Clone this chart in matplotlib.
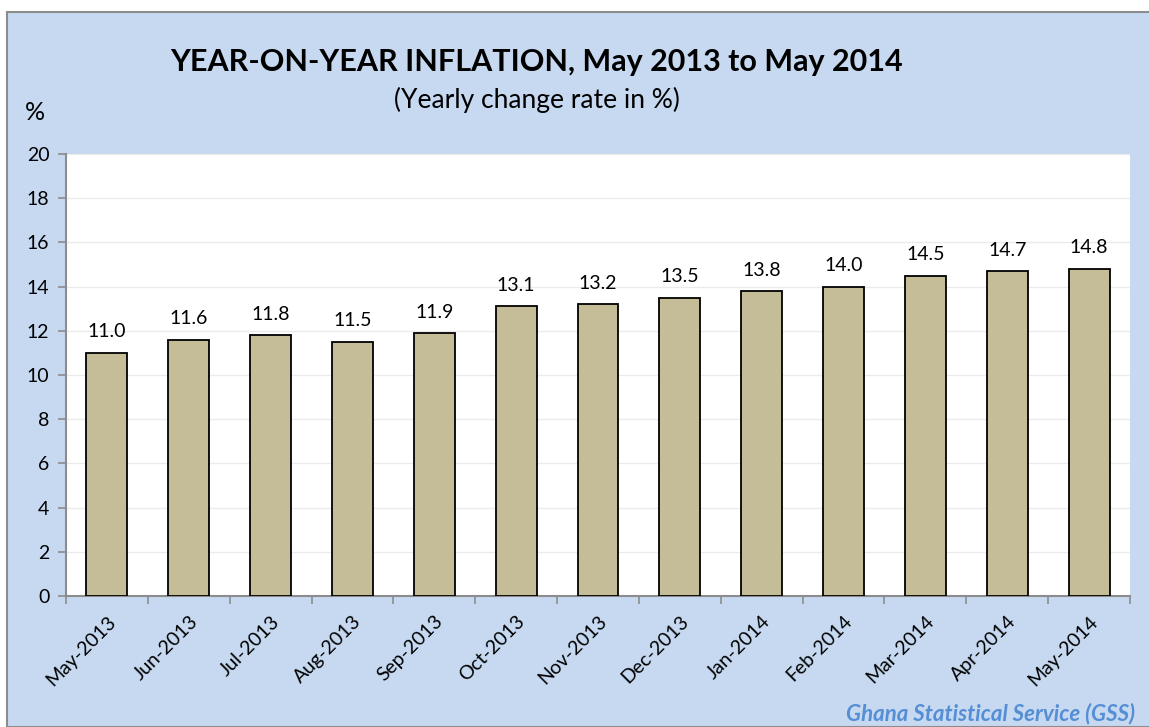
import matplotlib
matplotlib.use("Agg")
import matplotlib.pyplot as plt
from matplotlib.patches import Rectangle
import numpy as np

months = ["May-2013", "Jun-2013", "Jul-2013", "Aug-2013", "Sep-2013", "Oct-2013",
          "Nov-2013", "Dec-2013", "Jan-2014", "Feb-2014", "Mar-2014", "Apr-2014", "May-2014"]
inflation = [11.0, 11.6, 11.8, 11.5, 11.9, 13.1, 13.2, 13.5, 13.8, 14.0, 14.5, 14.7, 14.8]
yticks = [0, 2, 4, 6, 8, 10, 12, 14, 16, 18, 20]

plt.rcParams['font.family'] = ['Lato', 'DejaVu Sans']

W, H = 1149, 727
fig = plt.figure(figsize=(W / 100, H / 100), dpi=100, facecolor='white')
fig.patches.append(Rectangle((7 / W, 0), 1 - 7 / W + 0.01, (H - 12) / H,
                             transform=fig.transFigure, facecolor='#C6D9F1',
                             edgecolor='#8C8C8C', linewidth=1.5, zorder=-10))

ax = fig.add_axes([66 / W, (H - 596) / H, (1130 - 66) / W, (596 - 154) / H])
ax.set_facecolor('white')
x = np.arange(len(months))
bars = ax.bar(x, inflation, width=0.5, color='#C4BD97', edgecolor='black', linewidth=1.3, zorder=3)
for xi, v in zip(x, inflation):
    ax.annotate(f"{v:.1f}", (xi, v), xytext=(0, 9), textcoords='offset points',
                ha='center', va='bottom', fontsize=14, color='black')

ax.set_xlim(-0.5, len(months) - 0.5)
ax.set_ylim(0, 20)
ax.set_yticks(yticks)
ax.set_yticklabels([str(t) for t in yticks], fontsize=14)
ax.yaxis.grid(True, color='#EBEBEB', linewidth=1, zorder=0)
ax.set_axisbelow(True)

ax.set_xticks(x)
ax.set_xticklabels(months, rotation=45, ha='right', rotation_mode='anchor', fontsize=14)
ax.set_xticks(np.arange(-0.5, len(months)), minor=True)
ax.tick_params(axis='x', which='major', length=0, pad=12)
ax.tick_params(axis='x', which='minor', length=6, color='#8C8C8C', width=1.2)
ax.tick_params(axis='y', length=6, color='#8C8C8C', width=1.2, pad=6)

for s in ['top', 'right']:
    ax.spines[s].set_visible(False)
for s in ['left', 'bottom']:
    ax.spines[s].set_color('#8C8C8C')
    ax.spines[s].set_linewidth(1.5)

fig.text(537 / W, 1 - 62 / H, "YEAR-ON-YEAR INFLATION, May 2013 to May 2014",
         ha='center', va='center', fontsize=22, fontweight='bold')
fig.text(537 / W, 1 - 100 / H, "(Yearly change rate in %)", ha='center', va='center', fontsize=19)
fig.text(35 / W, 1 - 113 / H, "%", ha='center', va='center', fontsize=18)
fig.text(1135 / W, 1 - 714 / H, "Ghana Statistical Service (GSS)", ha='right', va='center',
         fontsize=16, fontstyle='italic', fontweight='bold', color='#558ED5')

fig.savefig("out.png", dpi=100, facecolor=fig.get_facecolor())
